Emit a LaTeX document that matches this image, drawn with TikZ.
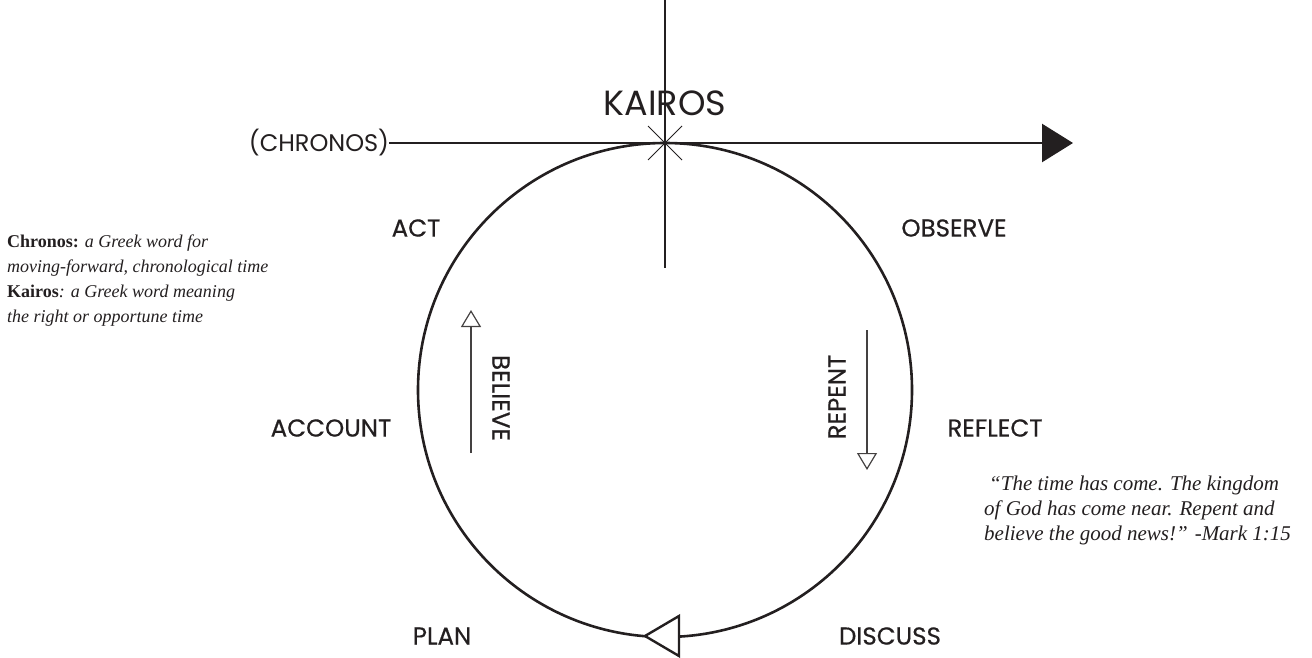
\documentclass[tikz,border=0pt]{standalone}
\usepackage{fontspec}
\newfontfamily\labelfont[FakeBold=0.5]{Poppins}
\newfontfamily\thinlabelfont{Poppins}
\newfontfamily\notefont{Liberation Serif}
\usetikzlibrary{arrows.meta}
\definecolor{ink}{HTML}{231F20}
\begin{document}
\begin{tikzpicture}[x=1pt,y=-1pt,
  lbl/.style={font=\labelfont\fontsize{24.5}{24.5}\selectfont, text=ink, inner sep=0pt, anchor=center},
  big/.style={font=\thinlabelfont\fontsize{35}{35}\selectfont, text=ink, inner sep=0pt, anchor=center},
  note/.style={font=\notefont\fontsize{18}{25}\selectfont, text=ink, inner sep=0pt, anchor=base west},
  quote/.style={font=\notefont\fontsize{21}{25}\selectfont, text=ink, inner sep=0pt, anchor=base west},
  mainline/.style={draw=ink, line width=2.6pt},
  thinarrow/.style={draw=ink!85, line width=1.2pt, -{Triangle[open, length=17pt, width=20pt, line width=1.2pt]}}
]
\useasboundingbox (0,0) rectangle (1312,658);
\coordinate (c) at (665,390);
\coordinate (k) at (665,143);
\coordinate (vtop) at (665,0);
\coordinate (vbot) at (665,268);
\coordinate (tip) at (1073,143);

% circle
\draw[mainline] (c) circle[radius=247pt];
% vertical line
\draw[draw=ink, line width=2pt] (vtop) -- (vbot);
% asterisk
\draw[draw=ink, line width=0.9pt] (648,126) -- (682,160) (648,160) -- (682,126);

% labels
\node[big] (kairos) at (665,103) {KAIROS};
\node[font=\thinlabelfont\fontsize{24}{24}\selectfont, text=ink, inner sep=0pt] (chronos) at (319,143) {(CHRONOS)};
\draw[draw=ink, line width=2.6pt, -{Triangle[length=31pt, width=38pt]}] (chronos.east) -- (tip);

\node[lbl] (act) at (416,228) {ACT};
\node[lbl] (observe) at (954,228) {OBSERVE};
\node[lbl] (account) at (331,428) {ACCOUNT};
\node[lbl] (reflect) at (995,428) {REFLECT};
\node[lbl] (plan) at (442,636) {PLAN};
\node[lbl] (discuss) at (890,636) {DISCUSS};

\node[lbl, rotate=-90] (believe) at (501,398) {BELIEVE};
\node[lbl, rotate=90] (repent) at (837,397) {REPENT};
\coordinate (b1) at (471,453);
\coordinate (b2) at (471,310);
\coordinate (r1) at (867,330);
\coordinate (r2) at (867,470);
\draw[thinarrow] (b1) -- (b2);
\draw[thinarrow] (r1) -- (r2);

% bottom arrowhead
\draw[draw=ink, fill=white, line width=2.4pt, line join=miter] (645,636) -- (679,616) -- (679,656) -- cycle;

% left notes
\node[note] (n1) at (7,247) {\textbf{Chronos:} \textit{a Greek word for}};
\node[note] (n2) at (7,272) {\textit{moving-forward, chronological time}};
\node[note] (n3) at (7,297) {\textbf{Kairos}\textit{: a Greek word meaning}};
\node[note] (n4) at (7,322) {\textit{the right or opportune time}};

% quote
\node[quote] (q1) at (989,490) {\textit{“The time has come. The kingdom}};
\node[quote] (q2) at (984,515) {\textit{of God has come near. Repent and}};
\node[quote] (q3) at (984,540) {\textit{believe the good news!” -Mark 1:15}};
\end{tikzpicture}
\end{document}
